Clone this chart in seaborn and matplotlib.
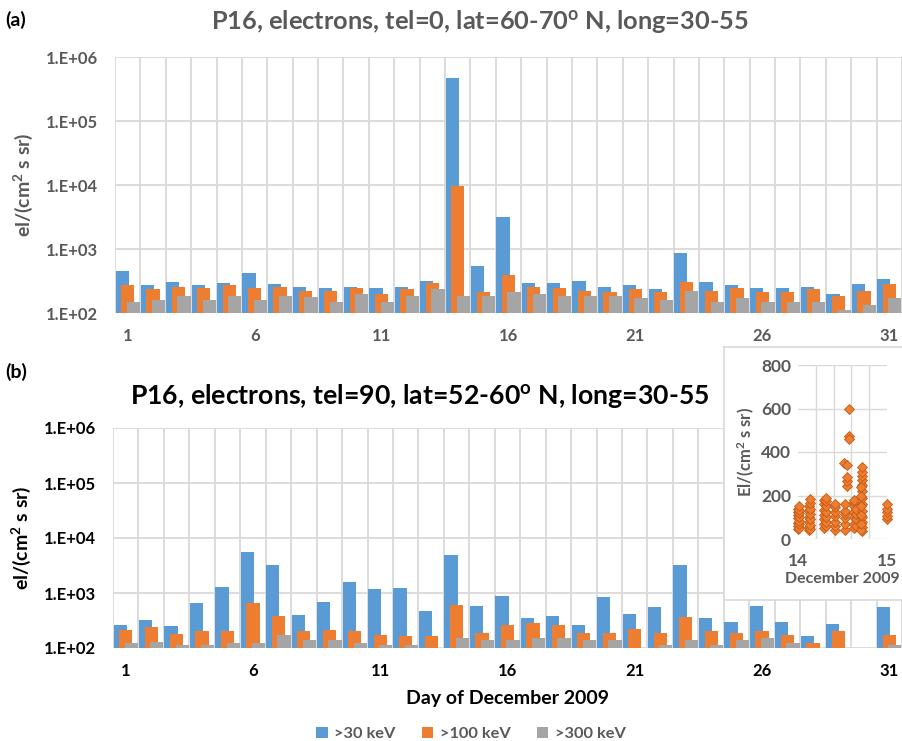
import numpy as np
import pandas as pd
import matplotlib
matplotlib.use("Agg")
import matplotlib.pyplot as plt
import matplotlib.ticker as mticker
from matplotlib.patches import Patch
import seaborn as sns

# ---------------- data ----------------
days = list(range(1, 32))
series_names = [">30 keV", ">100 keV", ">300 keV"]

a_30 = [458, 271, 308, 271, 297, 422, 284, 258, 246, 258, 246, 258, 320, 475000, 542, 3130,
        297, 297, 320, 258, 274, 235, 866, 308, 274, 246, 246, 258, 198, 284, 343]
a_100 = [271, 235, 258, 248, 271, 248, 258, 221, 221, 248, 198, 235, 297, 9640, 211, 392,
         258, 246, 221, 211, 235, 211, 308, 221, 246, 211, 211, 235, 184, 221, 284]
a_300 = [150, 161, 186, 161, 186, 161, 186, 175, 150, 200, 150, 186, 235, 184, 184, 211,
         198, 184, 184, 184, 171, 160, 221, 149, 171, 149, 149, 149, 111, 135, 171]

b_30 = [262, 327, 251, 658, 1270, 5500, 3230, 400, 677, 1606, 1200, 1232, 465, 4900, 580, 882,
        351, 387, 262, 857, 415, 553, 3230, 349, 293, 580, 293, 163, 273, np.nan, 556]
b_100 = [215, 241, 177, 204, 204, 649, 377, 204, 215, 204, 175, 163, 163, 600, 187, 262,
         289, 262, 187, 187, 225, 187, 366, 204, 187, 204, 175, 125, 204, np.nan, 175]
b_300 = [125, 128, 113, 113, 125, 125, 175, 138, 138, 125, 113, 113, np.nan, 150, 138, 138,
         150, 150, 138, 138, np.nan, 113, 138, 113, 138, 150, 125, np.nan, np.nan, np.nan, 113]

# inset: December 14, 2009 (fractional day) vs flux
inset_t = [14.00]*7 + [14.01]*7 + [14.12]*6 + [14.14]*7 + [14.29]*7 + [14.31]*7 + [14.42]*7 + \
          [14.53]*6 + [14.55]*3 + [14.52, 14.55] + [14.57]*3 + [14.63]*7 + [14.65]*4 + \
          [14.72]*13 + [14.71]*6 + [15.00]*5
inset_v = [45, 60, 75, 95, 110, 125, 140,
           50, 70, 85, 100, 120, 135, 150,
           40, 55, 80, 100, 130, 150,
           45, 65, 90, 115, 140, 165, 185,
           50, 70, 90, 110, 135, 160, 180,
           60, 80, 100, 125, 150, 175, 190,
           40, 60, 80, 105, 125, 145, 160,
           40, 70, 95, 115, 130, 160,
           245, 265, 285,
           350, 340,
           600, 475, 460,
           50, 70, 100, 125, 150, 170, 180,
           60, 90, 115, 140,
           35, 55, 80, 100, 130, 160, 190, 220, 250, 270, 290, 310, 330,
           40, 70, 110, 150, 200, 240,
           90, 105, 125, 140, 160]

tick_days = [1, 6, 11, 16, 21, 26, 31]

# ---------------- style ----------------
sns.set_theme(style="white")
FONT = "Lato"
plt.rcParams["font.family"] = [FONT, "DejaVu Sans"]
plt.rcParams["font.weight"] = "bold"
plt.rcParams["mathtext.fontset"] = "custom"
plt.rcParams["mathtext.rm"] = FONT + ":bold"
plt.rcParams["mathtext.bf"] = FONT + ":bold"
plt.rcParams["mathtext.it"] = FONT + ":bold:italic"

COLORS = ["#5B9BD5", "#ED7D31", "#A5A5A5"]
GRID = "#D9D9D9"
GREY_TXT = "#595959"

W, H = 903, 741
fig = plt.figure(figsize=(W / 100, H / 100), dpi=100)


def frac(x0, y0, x1, y1):
    return [x0 / W, 1 - y1 / H, (x1 - x0) / W, (y1 - y0) / H]


def make_df(v30, v100, v300):
    rows = []
    for name, vals in zip(series_names, [v30, v100, v300]):
        for d, v in zip(days, vals):
            rows.append({"day": d, "series": name, "flux": v})
    return pd.DataFrame(rows)


def panel(ax, df, txt_color):
    ax.set_yscale("log")
    sns.barplot(data=df, x="day", y="flux", hue="series", order=days,
                hue_order=series_names, palette=COLORS, errorbar=None,
                width=0.66, gap=-1.36, dodge=True, saturation=1,
                linewidth=0, ax=ax, legend=False)
    ax.set_ylim(100, 1e6)
    ax.set_xlim(-0.5, len(days) - 0.5)
    ax.yaxis.set_major_locator(mticker.FixedLocator([1e2, 1e3, 1e4, 1e5, 1e6]))
    ax.yaxis.set_minor_locator(mticker.NullLocator())
    ax.yaxis.set_major_formatter(mticker.FuncFormatter(
        lambda v, p: "1.E+%02d" % int(round(np.log10(v)))))
    ax.set_xticks([days.index(d) for d in tick_days])
    ax.set_xticklabels([str(d) for d in tick_days])
    ax.set_xticks(np.arange(-0.5, len(days) + 0.5, 1.0), minor=True)
    ax.grid(True, axis="y", which="major", color=GRID, linewidth=1.3)
    ax.grid(True, axis="x", which="minor", color=GRID, linewidth=1.3)
    ax.grid(False, axis="x", which="major")
    ax.set_axisbelow(True)
    for s in ax.spines.values():
        s.set_visible(False)
    ax.tick_params(axis="both", which="both", length=0, labelsize=12,
                   colors=txt_color)
    ax.tick_params(axis="x", pad=11)
    ax.tick_params(axis="y", pad=12)
    for lab in ax.get_xticklabels() + ax.get_yticklabels():
        lab.set_fontweight("bold")
    ax.set_xlabel("")
    ax.set_ylabel(r"el/(cm$^\mathrm{2}$ s sr)", fontsize=14, fontweight="bold",
                  color=txt_color, labelpad=8)


# ---------- panel (a) ----------
ax_a = fig.add_axes(frac(115, 57, 902, 313))
panel(ax_a, make_df(a_30, a_100, a_300), GREY_TXT)
fig.text(480 / W, 1 - 22 / H, r"P16, electrons, tel=0, lat=60-70$^\mathrm{o}$ N, long=30-55",
         ha="center", va="center", fontsize=18.3, fontweight="bold", color=GREY_TXT)
fig.text(5 / W, 1 - 20 / H, "(a)", ha="left", va="center", fontsize=14,
         fontweight="bold", color="black")

# ---------- panel (b) ----------
ax_b = fig.add_axes(frac(113, 428, 902, 648))
panel(ax_b, make_df(b_30, b_100, b_300), "black")
ax_b.set_xlabel("Day of December 2009", fontsize=14, fontweight="bold",
                color="black", labelpad=8)
fig.text(420 / W, 1 - 396 / H, r"P16, electrons, tel=90, lat=52-60$^\mathrm{o}$ N, long=30-55",
         ha="center", va="center", fontsize=19.2, fontweight="bold", color="black")
fig.text(5 / W, 1 - 372 / H, "(b)", ha="left", va="center", fontsize=14,
         fontweight="bold", color="black")

# legend
handles = [Patch(facecolor=c, edgecolor="none", label=n) for c, n in zip(COLORS, series_names)]
leg = fig.legend(handles=handles, loc="center", bbox_to_anchor=(471 / W, 1 - 734 / H),
                 ncol=3, frameon=False, fontsize=11.8, handlelength=0.7,
                 handleheight=0.7, handletextpad=0.4, columnspacing=1.6)
for t in leg.get_texts():
    t.set_color(GREY_TXT)
    t.set_fontweight("bold")

# ---------- inset ----------
box = fig.add_axes(frac(724, 347, 903, 600))
box.set_facecolor("white")
box.set_xticks([])
box.set_yticks([])
for s in box.spines.values():
    s.set_color(GRID)
    s.set_linewidth(1.2)

ax_i = fig.add_axes(frac(798, 365, 887, 539))
inset_df = pd.DataFrame({"t": inset_t, "v": inset_v})
sns.scatterplot(data=inset_df, x="t", y="v", marker="D", s=26, color="#ED7D31",
                edgecolor="#C55A11", linewidth=0.6, ax=ax_i, zorder=3, clip_on=False)
ax_i.set_xlim(14, 15)
ax_i.set_ylim(0, 800)
ax_i.set_yticks([0, 200, 400, 600, 800])
ax_i.set_xticks([14, 15])
ax_i.set_xticklabels(["14", "15"])
ax_i.set_xticks(np.arange(14, 15.01, 0.2), minor=True)
ax_i.grid(True, axis="y", which="major", color=GRID, linewidth=1.0)
ax_i.grid(True, axis="x", which="minor", color=GRID, linewidth=1.0)
ax_i.set_axisbelow(True)
for s in ax_i.spines.values():
    s.set_visible(False)
ax_i.tick_params(axis="both", which="both", length=0, labelsize=12.5, colors=GREY_TXT)
ax_i.tick_params(axis="x", pad=10)
ax_i.tick_params(axis="y", pad=5)
for lab in ax_i.get_xticklabels() + ax_i.get_yticklabels():
    lab.set_fontweight("bold")
ax_i.set_xlabel("December 2009", fontsize=11.5, fontweight="bold", color=GREY_TXT, labelpad=2)
ax_i.set_ylabel(r"El/(cm$^\mathrm{2}$ s sr)", fontsize=12, fontweight="bold",
                color=GREY_TXT, labelpad=3)

fig.savefig("out.png", dpi=100)
